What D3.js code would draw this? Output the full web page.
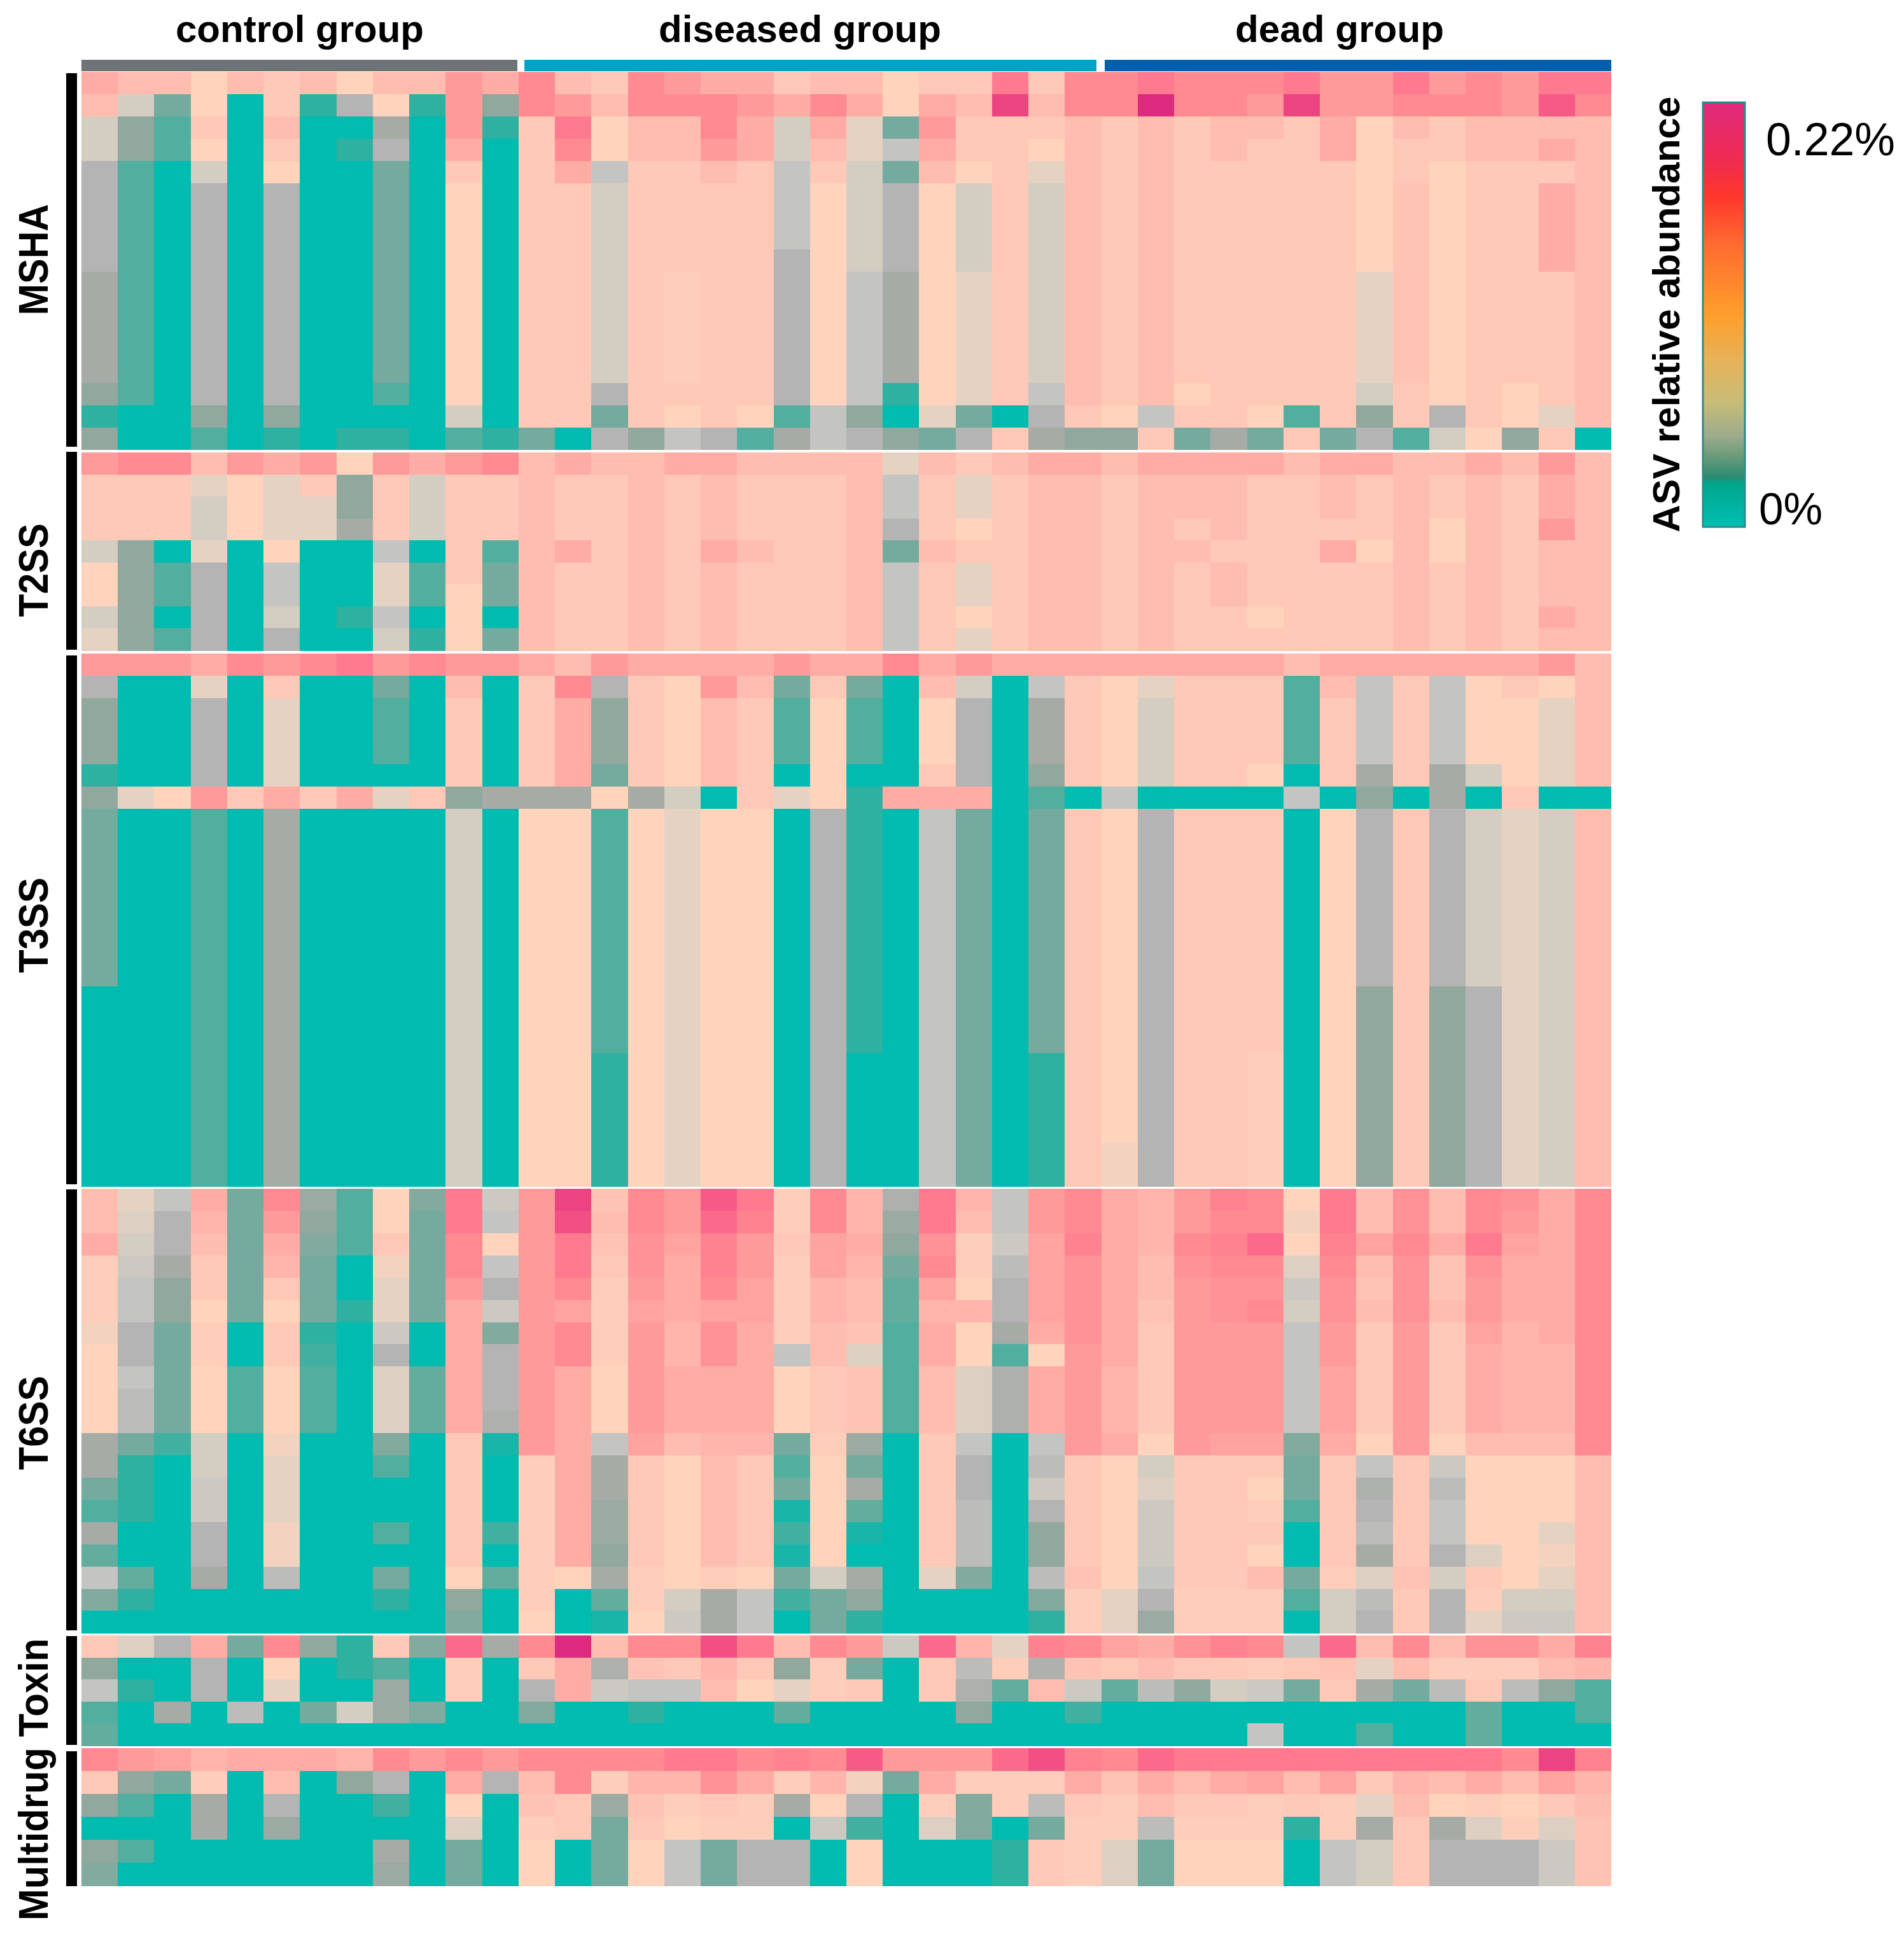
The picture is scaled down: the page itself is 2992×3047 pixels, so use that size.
<!DOCTYPE html>
<html>
<head>
<meta charset="utf-8">
<script src="https://cdn.jsdelivr.net/npm/d3@7"></script>
<style>
html,body{margin:0;padding:0;background:#fff;}
svg{display:block;}
text{font-family:"Liberation Sans",Arial,sans-serif;fill:#000;}
</style>
</head>
<body>
<div id="chart"></div>
<script>
// Abundance ranks (0 = lowest, 19 = highest); columns are samples.
const groupNames = ["control group", "diseased group", "dead group"];
const groupSizes = [12, 16, 14];
const panelNames = ["MSHA", "T2SS", "T3SS", "T6SS", "Toxin", "Multidrug"];
const legendTicks = ["0.22%", "0%"];

const mshaRows = [
[13,12,12,10,12,11,12,10,12,12,14,13, 15,12,11,15,14,13,13,11,12,12,10,11,11,16,11,15, 15,16,15,15,15,16,14,14,16,14,15,14,16,16],
[12,8,3,10,0,11,1,6,10,1,14,4, 15,14,12,15,15,15,14,13,15,13,10,13,12,18,12,15, 15,19,15,15,14,18,14,14,15,15,15,14,17,15],
[8,4,2,11,0,12,0,0,5,0,14,1, 11,16,10,12,12,15,13,8,13,9,3,14,11,11,11,12, 11,12,11,12,12,11,13,10,12,11,12,12,12,12],
[8,4,2,10,0,11,0,1,6,0,13,0, 11,15,10,12,12,14,13,8,12,9,7,13,11,11,10,12, 11,12,11,12,11,11,13,10,11,11,12,12,13,12],
[6,2,0,8,0,10,0,0,3,0,11,0, 11,13,7,11,11,12,11,7,11,8,3,12,10,11,9,12, 11,12,11,11,11,11,11,10,11,10,11,11,11,12],
[6,2,0,6,0,6,0,0,3,0,10,0, 11,11,8,11,11,11,11,7,10,8,6,10,8,11,8,12, 11,12,11,11,11,11,11,10,11.5,10,11,11,13,12],
[6,2,0,6,0,6,0,0,3,0,10,0, 11,11,8,11,11,11,11,7,10,8,6,10,8,11,8,12, 11,12,11,11,11,11,11,10,11.5,10,11,11,13,12],
[6,2,0,6,0,6,0,0,3,0,10,0, 11,11,8,11,11,11,11,7,10,8,6,10,8,11,8,12, 11,12,11,11,11,11,11,10,11.5,10,11,11,13,12],
[6,2,0,6,0,6,0,0,3,0,10,0, 11,11,8,11,11,11,11,6,10,8,6,10,8,11,8,12, 11,12,11,11,11,11,11,10,11.5,10,11,11,13,12],
[5,2,0,6,0,6,0,0,3,0,10,0, 11,11,8,11,10.5,11,11,6,10,7,5,10,9,11,8,12, 11,12,11,11,11,11,11,9,11.5,10,11,11,11,12],
[5,2,0,6,0,6,0,0,3,0,10,0, 11,11,8,11,10.5,11,11,6,10,7,5,10,9,11,8,12, 11,12,11,11,11,11,11,9,11.5,10,11,11,11,12],
[5,2,0,6,0,6,0,0,3,0,10,0, 11,11,8,11,10.5,11,11,6,10,7,5,10,9,11,8,12, 11,12,11,11,11,11,11,9,11.5,10,11,11,11,12],
[5,2,0,6,0,6,0,0,3,0,10,0, 11,11,8,11,10.5,11,11,6,10,7,5,10,9,11,8,12, 11,12,11,11,11,11,11,9,11.5,10,11,11,11,12],
[5,2,0,6,0,6,0,0,3,0,10,0, 11,11,8,11,10.5,11,11,6,10,7,5,10,9,11,8,12, 11,12,11,11,11,11,11,9,11.5,10,11,11,11,12],
[4,2,0,6,0,6,0,0,2,0,10,0, 11,11,6,11,11,11,11,6,10,7,1,10,9,11,7,12, 11,12,10,11,11,11,11,8,11,10,11,10,11,12],
[1,0,0,4,0,4,0,0,0,0,8,0, 11,11,3,11,10,11,10,2,7,4,0,9,3,0,6,11, 10,7,11,11,10,2,11,4,11,6,11,10,9,12],
[4,0,0,2,0,1,0,1,1,0,2,1, 3,0,6,4,7,6,2,5,7,6,4,3,6,11,5,4, 4,11,3,5,3,11,3,6,2,8,10,4,11,0]
];

const t2ssRows = [
[14,15,15,12,14,13,14,10,14,13,14,15, 12,13,12,12,13,13,12,12,12,12,9,12,11,12,13,13, 12,13,13,13,13,12,13,13,12,12,13,12,14,12],
[11,11,11,9,10,9,11,4,11,8,11,11, 12,11,11,12,11,12,11,11,11,12,7,11,9,11,12,12, 11,12,12,12,11,11,12,11,12,11,12,11,13,12],
[11,11,11,8,10,9,9,4,11,8,11,11, 12,11,11,12,11,12,11,11,11,12,7,11,9,11,12,12, 11,12,12,12,11,11,12,11,12,11,12,11,13,12],
[11,11,11,8,10,9,9,5,11,8,11,11, 12,11,11,12,11,12,11,11,11,12,6,11,10,11,12,12, 11,12,11,12,11,11,11,11,12,10,12,11,14,12],
[8,4,0,9,0,10,0,0,7,0,11,2, 12,13,11,12,11,13,12,11,11,12,3,12,11,11,12,12, 11,12,12,11,11,11,13,10,12,10,12,11,12,12],
[10,4,2,6,0,7,0,0,9,2,11,3, 12,11,11,12,11,12,11,11,11,12,7,11,9,11,12,12, 11,12,11,12,11,11,11,11,12,11,12,11,12,12],
[10,4,2,6,0,7,0,0,9,2,10,3, 12,11,11,12,11,12,11,11,11,12,7,11,9,11,12,12, 11,12,11,12,11,11,11,11,12,11,12,11,12,12],
[8,4,0,6,0,8,0,1,7,0,10,0, 12,11,11,12,11,12,11,11,11,12,7,11,10,11,12,12, 11,12,11,11,10,11,11,11,12,11,12,11,13,12],
[9,4,2,6,0,6,0,0,8,1,10,3, 12,11,11,12,11,12,11,11,11,12,7,11,9,11,12,12, 11,12,11,11,11,11,11,11,12,11,12,11,12,12]
];

const t3ssRows = [
[14,14,14,13,15,14,15,16,14,15,14,14, 13,12,14,13,13,13,13,14,13,13,15,13,14,13,13,13, 13,13,13,13,13,12,13,13,13,13,13,13,14,12],
[6,0,0,9,0,11,0,0,3,0,12,0, 11,15,6,11,10,14,12,3,11,3,0,12,8,0,7,11, 10,9,11,11,11,2,12,7,11,7,10,11,10,12],
[4,0,0,6,0,9,0,0,2,0,11,0, 11,13,4,11,10,12,11,2,10,2,0,10,6,0,5,11, 10,8,11,11,11,2,11,7,11,7,10,10,9,12],
[4,0,0,6,0,9,0,0,2,0,11,0, 11,13,4,11,10,12,11,2,10,2,0,10,6,0,5,11, 10,8,11,11,11,2,11,7,11,7,10,10,9,12],
[4,0,0,6,0,9,0,0,2,0,11,0, 11,13,4,11,10,12,11,2,10,2,0,10,6,0,5,11, 10,8,11,11,11,2,11,7,11,7,10,10,9,12],
[1,0,0,6,0,9,0,0,0,0,11,0, 11,13,3,11,10,12,11,0,10,0,0,11,6,0,4,11, 10,8,11,11,10,0,11,5,11,5,8,10,9,12],
[4,9,10,14,11,13,11,13,9,11,4,5, 5,5,10,5,8,0,11,9,10,1,13,13,13,0,2,0, 7,0,0,0,0,7,0,4,0,5,0,11,0,0],
[3,0,0,2,0,5,0,0,0,0,8,0, 10,10,2,10,9,10,10,0,6,1,0,7,3,0,3,11, 10,6,11,11,11,0,10,6,11,6,8,9,8,12],
[3,0,0,2,0,5,0,0,0,0,8,0, 10,10,2,10,9,10,10,0,6,1,0,7,3,0,3,11, 10,6,11,11,11,0,10,6,11,6,8,9,8,12],
[3,0,0,2,0,5,0,0,0,0,8,0, 10,10,2,10,9,10,10,0,6,1,0,7,3,0,3,11, 10,6,11,11,11,0,10,6,11,6,8,9,8,12],
[3,0,0,2,0,5,0,0,0,0,8,0, 10,10,2,10,9,10,10,0,6,1,0,7,3,0,3,11, 10,6,11,11,11,0,10,6,11,6,8,9,8,12],
[3,0,0,2,0,5,0,0,0,0,8,0, 10,10,2,10,9,10,10,0,6,1,0,7,3,0,3,11, 10,6,11,11,11,0,10,6,11,6,8,9,8,12],
[3,0,0,2,0,5,0,0,0,0,8,0, 10,10,2,10,9,10,10,0,6,1,0,7,3,0,3,11, 10,6,11,11,11,0,10,6,11,6,8,9,8,12],
[3,0,0,2,0,5,0,0,0,0,8,0, 10,10,2,10,9,10,10,0,6,1,0,7,3,0,3,11, 10,6,11,11,11,0,10,6,11,6,8,9,8,12],
[3,0,0,2,0,5,0,0,0,0,8,0, 10,10,2,10,9,10,10,0,6,1,0,7,3,0,3,11, 10,6,11,11,11,0,10,6,11,6,8,9,8,12],
[0,0,0,2,0,5,0,0,0,0,8,0, 10,10,2,10,9,10,10,0,6,1,0,7,3,0,3,11, 10,6,11,11,11,0,10,4,11,4,6,9,8,12],
[0,0,0,2,0,5,0,0,0,0,8,0, 10,10,2,10,9,10,10,0,6,1,0,7,3,0,3,11, 10,6,11,11,11,0,10,4,11,4,6,9,8,12],
[0,0,0,2,0,5,0,0,0,0,8,0, 10,10,2,10,9,10,10,0,6,1,0,7,3,0,3,11, 10,6,11,11,11,0,10,4,11,4,6,9,8,12],
[0,0,0,2,0,5,0,0,0,0,8,0, 10,10,1,10,9,10,10,0,6,0,0,7,3,0,1,11, 10,6,11,11,10.5,0,10,4,11,4,6,9,8,12],
[0,0,0,2,0,5,0,0,0,0,8,0, 10,10,1,10,9,10,10,0,6,0,0,7,3,0,1,11, 10,6,11,11,10.5,0,10,4,11,4,6,9,8,12],
[0,0,0,2,0,5,0,0,0,0,8,0, 10,10,1,10,9,10,10,0,6,0,0,7,3,0,1,11, 10,6,11,11,10.5,0,10,4,11,4,6,9,8,12],
[0,0,0,2,0,5,0,0,0,0,8,0, 10,10,1,10,9,10,10,0,6,0,0,7,3,0,1,11, 10,6,11,11,10.5,0,10,4,11,4,6,9,8,12],
[0,0,0,2,0,5,0,0,0,0,8,0, 10,10,1,10,9,10,10,0,6,0,0,7,3,0,1,11, 9.5,6,11,11,10.5,0,10,4,11,4,6,9,8,12],
[0,0,0,2,0,5,0,0,0,0,8,0, 10,10,1,10,9,10,10,0,6,0,0,7,3,0,1,11, 9.5,6,11,11,10.5,0,10,4,11,4,6,9,8,12]
];

const t6ssRows = [
[12,9,7,13,3,15,4.5,2,10,3.5,16,7.5, 14,18,11.5,15,14,17,16,10.5,15,12.5,5.5,16,12.5,7,14,15, 13,12.5,14,15.5,15,10,16,12,14.5,12,15,14.5,13,15],
[12,8.5,6,12.5,3,14,4,2,10,3,16,7, 14,17.5,12,15,14,16.5,15.5,10.5,15,12.5,4.5,16,12,7,14,15, 13,12.5,14,15,15,9.5,16,12,14.5,12,15,14,13,15],
[13,8,6,12,3,13,3.5,2,11,3,15,10, 14,16,11.5,14.5,13.5,15.5,14,11,13.5,13,4,14.5,10.5,7.5,13.5,15.5, 13,12.5,15,15.5,16.5,10,15.5,13.5,15,13,16,13.5,13,15],
[10.5,7.5,5,11,3,12.5,3,0,9.5,3,15,7, 14,16,11,14.5,13,15.5,14,10.5,13.5,12.5,3,15,10.5,6.5,13.5,14.5, 13,12,14.5,15,15,8.5,15,12,14.5,11.5,14.5,13,13,15],
[10.5,7,4,11,3,11,3,0,9,3,14,6, 14,15,10.5,14,13,15,13.5,10.5,12.5,12,2.5,13.5,10,6,13.5,14.5, 13,12,14,14.5,14.5,7.5,14.5,11.5,14.5,11.5,14,13,13,15],
[10.5,7,4,10,3,10,3,1,9,3,13,7.5, 14,13.5,10.5,13.5,13,13.5,13.5,10.5,12.5,12,2.5,12.5,12.5,6,13.5,14.5, 13,11.5,14,14.5,15,8,14.5,12,14.5,12,14,13,13,15],
[9.5,6,3,10.5,0,11,1,0,7.5,0,13,3.5, 14,15,10.5,14,12.5,14.5,13,10.5,12,11.5,2,13,10,5,13,14.5, 13,11,14,14,14,7,14,11,14,11,13.5,12.5,13,15],
[10,6,3,10.5,0,11,1.5,0,6,0,13,6, 14,15,10.5,14,12.5,14.5,13,7,12,8.5,2,13,10,2,10,14, 13,11,14,14,14,7,14,11,14,11,13,12.5,12.5,15],
[10,7,3,10,2,10,2,0,8.5,2.5,13,6, 14,13,10,14,13,13,13,10,11,11.5,2,12,8.5,5.5,13,14, 12.5,11,14,14,14,7,13.5,11,14,11,13,12.5,12.5,15],
[10,6.5,3,10,2,10,2,0,8.5,2.5,13,6, 14,13,10,14,13,13,13,10,11,11.5,2,12,8.5,5.5,13,14, 12.5,11,14,14,14,7,13.5,11,14,11,13,12.5,12.5,15],
[10,6.5,3,10,2,10,2,0,8.5,2.5,13,5.5, 14,13,10,14,13,13,13,10,11,11.5,2,12,8.5,5.5,13,14, 12.5,11,14,14,14,7,13.5,11,14,11,13,12.5,12.5,15],
[5,3,1.5,8,0,9.5,0,0,3.5,0,11,0.5, 14,13,7,13.5,12,12.5,12.5,3,10.5,4.5,0,11,7,0,7,14, 13,10,14,13.5,13.5,3.5,13,10,14,10,12,12,12,15],
[5,1,0,8,0,9,0,0,2,0,11,0, 10.5,13,5,11,10,12,11,2,10,3,0,11,6,0,6.5,11, 10,8,11,11,11,3,11,7,11,7.5,10,10,10,12],
[3,1,0,7.5,0,9,0,0,0,0,11,0, 10.5,13,5,11,10,12,11,3,10,5,0,11,6,0,7.5,11, 10,8.5,11,11,10,3,11,5.5,11,6.5,10,10,10,12],
[2,1,0,7.5,0,9,0,0,0,0,11,0, 10.5,13,4.5,11,10,12,11,0.5,10,2.5,0,11,6.5,0,6,11, 10,7.5,11,11,10.5,2,11,6,11,7,10,10,10,12],
[5,0,0,6,0,9.5,0,0,2,0,11,1.5, 10.5,13,4.5,11,10,12,11,1.5,10,0.5,0,11,6.5,0,4,11, 10,7.5,11,11,11,0,11,6.5,11,7,10,10,9,12],
[2.5,0,0,6,0,9.5,0,0,0,0,11,0, 10.5,13,4,11,10,12,11,0.5,10,0,0,11,6.5,0,4,11, 10,7.5,11,11,10,0,11,5,11,6,8.5,10,9.5,12],
[7,2.5,0,5,0,6.5,0,0,3,0,10,2.5, 10.5,10,5,10.5,10,10.5,10,3,8,5,0,9,3.5,0,6.5,11.5, 10,7,11,11,12,3,10.5,8.5,11.5,8,11,10,9,12],
[3.5,1,0,0,0,0,0,0,1,0,4,0, 10.5,0,2.5,10.5,8,5,7,1.5,3,4,0,0,0,0,3.5,10.5, 9,6,10.5,10.5,10.5,2,8,6.5,11,6,10.5,8,8,12],
[0,0,0,0,0,0,0,0,0,0,3.5,0, 10,0,0.5,10,7.5,5,7,0,3,1,0,0,0,0,1,10.5, 9,4.5,10.5,10.5,10.5,0,8,6,11,6,9,7.5,7.5,12]
];

const toxinRows = [
[11,8.5,6,13,3,15,4,1,11,3.5,16.5,5, 15,19,12,15,15,17.5,16,12,15,14,7.5,16.5,12.5,9,15.5,15, 13.5,13,14.5,15.5,15,7,16.5,12,15,12,14.5,14.5,13,15.5],
[4,0,0,6,0,10,0,1,2,0,10.5,0, 11,13,5.5,11.5,11,12.5,11,4,10.5,3,0,11,6.5,10.5,5.5,11.5, 11,12,11,11,10.5,11,11.5,9,12,10.5,10.5,10.5,12,12.5],
[7,1,0,6,0,9,0,0,4.5,0,10.5,0, 6,13,7.5,7,7,12,10,9,10.5,11,0,11,5.5,2.5,12,7.5, 2.5,6.5,4,8,7.5,3,11,5,3,6.5,11,6.5,4,2],
[2,0,5,0,6.5,0,3,8,4.5,3.5,0,0, 3.5,0,0,1,0,0,0,2.5,0,0,0,0,4,0,0,1.5, 0,0,0,0,0,0,0,0,0,0,2.5,0,0,2],
[2.5,0,0,0,0,0,0,0,0,0,0,0, 0,0,0,0,0,0,0,0,0,0,0,0,0,0,0,0, 0,0,0,0,7,0,0,2,0,0,2.5,0,0,0]
];

const multidrugRows = [
[15,14,13.5,12.5,13,13,13,12.5,15,14,15,14, 15,15,15,15,16,16,15,15.5,15,17,14,14,14,16.5,17.5,15.5, 15,16.5,16,16,16,16,16,16,16,16,16,15,18,15.5],
[11,4,3,10.5,0,12,0,4,6,0,13,6, 12,15,10.5,12.5,12.5,14.5,13,10.5,12.5,9.5,3,13,10.5,10.5,10.5,13, 11.5,13,12,13,13.5,12,13.5,11,12.5,12,13,12,13.5,12.5],
[4,2,0,5,0,6,0,0,1.5,0,10,0, 11.5,11,4.5,11.5,10.5,11,10.5,5,10,6,0,10.5,3.5,10.5,6.5,11, 10.5,12,11,11,10.5,11,10.5,9,12,10,10.5,10,11,12],
[0,0,0,5,0,4.5,0,0,0,0,8.5,0, 10.5,11,3,11,10,10.5,10.5,0,7.5,1.5,0,8.5,3.5,0,3,10.5, 10.5,6.5,10.5,10.5,10.5,1,10.5,5,11,5,8.5,10.5,8.5,11.5],
[4,2,0,0,0,0,0,0,5,0,3,0, 10,0,3,10,7,3,6,6,0,10,0,0,0,1,11,10.5, 8.5,3,10,10,10,0,7,8,11,6,6,6,7.5,11.5],
[3.5,0,0,0,0,0,0,0,4.5,0,3,0, 10,0,3,10,7,3,6,6,0,10,0,0,0,1,11,10.5, 8.5,3,10,10,10,0,7,8,11,6,6,6,7.5,11.5]
];

const levelStops = [0,1,2,3,4,5,6,7,8,9,10,11,12,13,14,15,16,17,18,19];
const levelColors = ["#00bbb0","#2fb1a2","#52ae9f","#74ab9e","#90a89e","#a6aba6","#b4b4b4","#c4c4c2","#d4cdc2","#e6d2c2",
  "#ffd3bc","#ffc8b7","#ffbdb0","#ffaca5","#ff9a9a","#ff8a92","#ff7a8e","#f85a88","#ec4480","#de2a7e"];

const legendStops = [0,0.13,0.22,0.335,0.5,0.62,0.705,0.787,0.83,0.885,0.897,1];
const legendColors = ["#df2a7c","#ee2b52","#fe362c","#ff6b30","#ff9e2c","#e3b45e","#c8bc78","#9bab8c","#6e9c7c","#2b8b73","#00a68c","#00bfb2"];

const groupColors = ["#6d7376","#00a3c8","#0060ae"];

// ---- drawing ----
const W = 2992, H = 3047;
const svg = d3.select("#chart").append("svg").attr("width", W).attr("height", H).attr("viewBox", [0,0,W,H]);
svg.append("rect").attr("width",W).attr("height",H).attr("fill","#fff");

const allRows = [mshaRows,t2ssRows,t3ssRows,t6ssRows,toxinRows,multidrugRows];
const nCols = d3.sum(groupSizes);
const x = d3.scaleLinear().domain([0,nCols]).range([128,2532]);
const color = d3.scaleLinear().domain(levelStops).range(levelColors).interpolate(d3.interpolateRgb).clamp(true);

const panelBands = [[113.3,706.5],[711,1022],[1027,1864.5],[1868,2566.4],[2570,2743],[2747,2963]];
const sideBars = [[115,702],[710,1021],[1030,1861],[1869,2562],[2571,2742],[2752,2964]];
const panelLabels = [
  {c:408,l:175},{c:896,l:147},{c:1454,l:150},{c:2236,l:148},{c:2652,l:155},{c:2882,l:272}
];

allRows.forEach((rows,p)=>{
  const y = d3.scaleBand().domain(d3.range(rows.length)).range(panelBands[p]);
  const g = svg.append("g").attr("shape-rendering","crispEdges");
  const rowG = g.selectAll("g").data(rows).join("g");
  rowG.selectAll("rect").data((d,i)=>d.map((v,j)=>({v,j,i}))).join("rect")
    .attr("x",d=>x(d.j)).attr("width",d=>x(d.j+1)-x(d.j))
    .attr("y",d=>y(d.i)).attr("height",y.bandwidth()+0.5)
    .attr("fill",d=>color(d.v));
  svg.append("rect").attr("x",104).attr("width",17)
    .attr("y",sideBars[p][0]).attr("height",sideBars[p][1]-sideBars[p][0]).attr("fill","#000");
  svg.append("text").attr("transform",`translate(75,${panelLabels[p].c}) rotate(-90)`)
    .attr("text-anchor","middle").attr("font-size",65).attr("font-weight",700)
    .attr("textLength",panelLabels[p].l).attr("lengthAdjust","spacingAndGlyphs")
    .text(panelNames[p]);
});

// group bars + titles
const groupEnds = [[128,813],[824,1723],[1736,2532]];
const titleCenters = [471,1257,2105];
const titleLengths = [390,444,328];
groupNames.forEach((name,i)=>{
  svg.append("rect").attr("x",groupEnds[i][0]).attr("y",94)
    .attr("width",groupEnds[i][1]-groupEnds[i][0]).attr("height",18).attr("fill",groupColors[i]);
  svg.append("text").attr("x",titleCenters[i]).attr("y",66).attr("text-anchor","middle")
    .attr("font-size",60).attr("font-weight",700)
    .attr("textLength",titleLengths[i]).attr("lengthAdjust","spacingAndGlyphs").text(name);
});

// legend
const defs = svg.append("defs");
const grad = defs.append("linearGradient").attr("id","legendGrad").attr("x1",0).attr("y1",0).attr("x2",0).attr("y2",1);
grad.selectAll("stop").data(legendStops).join("stop")
  .attr("offset",d=>d).attr("stop-color",(d,i)=>legendColors[i]);
svg.append("rect").attr("x",2676).attr("y",161).attr("width",66).attr("height",667)
  .attr("fill","url(#legendGrad)").attr("stroke","#2e8a8c").attr("stroke-width",3);
svg.append("text").attr("transform","translate(2639,494) rotate(-90)")
  .attr("text-anchor","middle").attr("font-size",60).attr("font-weight",700)
  .attr("textLength",685).attr("lengthAdjust","spacingAndGlyphs").text("ASV relative abundance");
svg.append("text").attr("x",2775).attr("y",244).attr("font-size",72)
  .attr("textLength",203).attr("lengthAdjust","spacingAndGlyphs").text(legendTicks[0]);
svg.append("text").attr("x",2764).attr("y",824).attr("font-size",70)
  .attr("textLength",100).attr("lengthAdjust","spacingAndGlyphs").text(legendTicks[1]);
</script>
</body>
</html>
